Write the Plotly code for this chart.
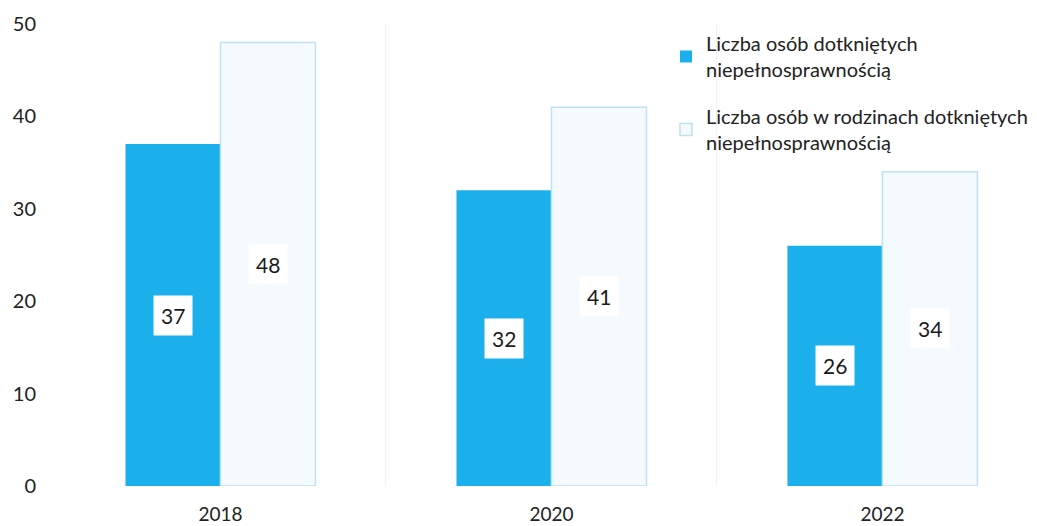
import plotly.graph_objects as go

years = ["2018", "2020", "2022"]
disabled = [37, 32, 26]
families = [48, 41, 34]
series_names = [
    "Liczba osób dotkniętych<br>niepełnosprawnością",
    "Liczba osób w rodzinach dotkniętych<br>niepełnosprawnością",
]
y_ticks = [0, 10, 20, 30, 40, 50]

W, H = 1037, 526
M_L, M_R, M_T, M_B = 55, 0, 24, 40
BARGAP = 0.426
X_RANGE = [-0.5, 2.467]
FONT = "Lato, 'Noto Sans', sans-serif"

fig = go.Figure()
fig.add_trace(go.Bar(
    x=years, y=disabled, name=series_names[0], legendgroup="a",
    marker=dict(color="#1bb0ec", line=dict(width=0)),
    hoverinfo="skip",
))
fig.add_trace(go.Bar(
    x=years, y=families, name=series_names[1], legendgroup="b",
    marker=dict(color="#f4fafd", line=dict(color="#bfe2f3", width=1.5)),
    hoverinfo="skip",
))

# value labels in white boxes at the middle of each bar
plot_w = W - M_L - M_R
cat_px = plot_w / (X_RANGE[1] - X_RANGE[0])
bar_px = cat_px * (1 - BARGAP) / 2
for vals, shift in ((disabled, -bar_px / 2), (families, bar_px / 2)):
    for i, v in enumerate(vals):
        fig.add_annotation(
            xref="x", yref="y", x=i, y=v / 2, xshift=shift,
            text=str(v), showarrow=False,
            font=dict(family=FONT, size=21, color="#1a1a1a"),
            bgcolor="#ffffff", borderpad=7,
        )

fig.update_layout(
    width=W, height=H,
    margin=dict(l=M_L, r=M_R, t=M_T, b=M_B, autoexpand=False),
    paper_bgcolor="white", plot_bgcolor="white",
    barmode="group", bargap=BARGAP, bargroupgap=0,
    font=dict(family=FONT, size=18, color="#222222"),
    legend=dict(
        x=(666 - M_L) / plot_w, y=1.0, xanchor="left", yanchor="top",
        bgcolor="rgba(0,0,0,0)", font=dict(size=20, color="#222222"),
        tracegroupgap=18, itemclick=False,
    ),
    showlegend=True,
)
fig.update_xaxes(
    type="category", range=X_RANGE, tickson="boundaries", automargin=False,
    showgrid=True, gridcolor="#f3f3f3", gridwidth=1,
    showline=False, zeroline=False, ticks="",
    ticklabelstandoff=15, tickfont=dict(size=19),
)
fig.update_yaxes(
    range=[0, 50], tickvals=y_ticks, showgrid=False, zeroline=False,
    automargin=False, showline=False, ticks="",
    ticklabelstandoff=18, tickfont=dict(size=20),
)

fig.write_html("out.html")
